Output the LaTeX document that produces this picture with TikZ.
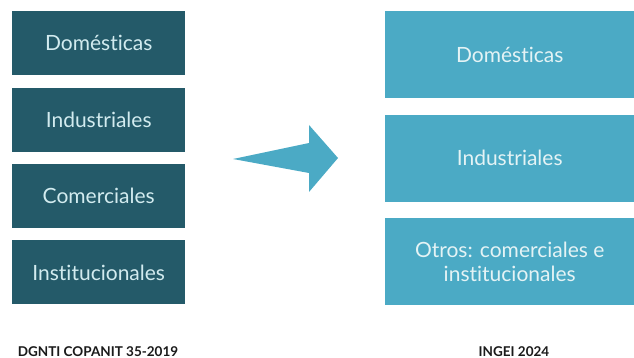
\documentclass[tikz,border=0pt]{standalone}
\usepackage{fontspec}
\setmainfont{Lato}[Ligatures=NoCommon]
\usetikzlibrary{positioning}
\definecolor{deepteal}{HTML}{245A69}
\definecolor{lightteal}{HTML}{4BAAC5}
\definecolor{paletext}{HTML}{D2EBEF}
\definecolor{labeltext}{HTML}{1A1A1A}
\tikzset{
  oldbox/.style={rectangle,fill=deepteal,text=paletext,align=center,minimum width=173pt,minimum height=64pt,inner sep=0pt,font=\fontsize{21}{24}\selectfont},
  newbox/.style={rectangle,fill=lightteal,text=paletext!60!white,align=center,minimum width=249pt,minimum height=87pt,inner sep=0pt,font=\fontsize{21}{24}\selectfont},
  caption/.style={font=\bfseries\fontsize{13.5}{16}\selectfont,text=labeltext,anchor=base}
}

\begin{document}
\begin{tikzpicture}[x=1pt,y=-1pt,node distance=12pt]
    \useasboundingbox (0,0) rectangle (634,358);
    % left column
    \node[oldbox,anchor=north west] (dom) at (12,11) {Domésticas};
    \node[oldbox,below=of dom] (ind) {Industriales};
    \node[oldbox,below=of ind] (com) {Comerciales};
    \node[oldbox,below=of com] (ins) {Institucionales};
    % right column
    \node[newbox,anchor=north west] (ndom) at (385,11) {Domésticas};
    \node[newbox,below=16pt of ndom] (nind) {Industriales};
    \node[newbox,below=16pt of nind] (otros) {Otros: comerciales e\\institucionales};
    % arrow
    \fill[lightteal] (233,159) -- (309,143) -- (309,125) -- (338,158)
      -- (309,192) -- (309,173) -- cycle;
    % captions
    \node[caption] (capold) at (98,356) {DGNTI COPANIT 35-2019};
    \node[caption] (capnew) at (514,356) {INGEI 2024};
\end{tikzpicture}
\end{document}
